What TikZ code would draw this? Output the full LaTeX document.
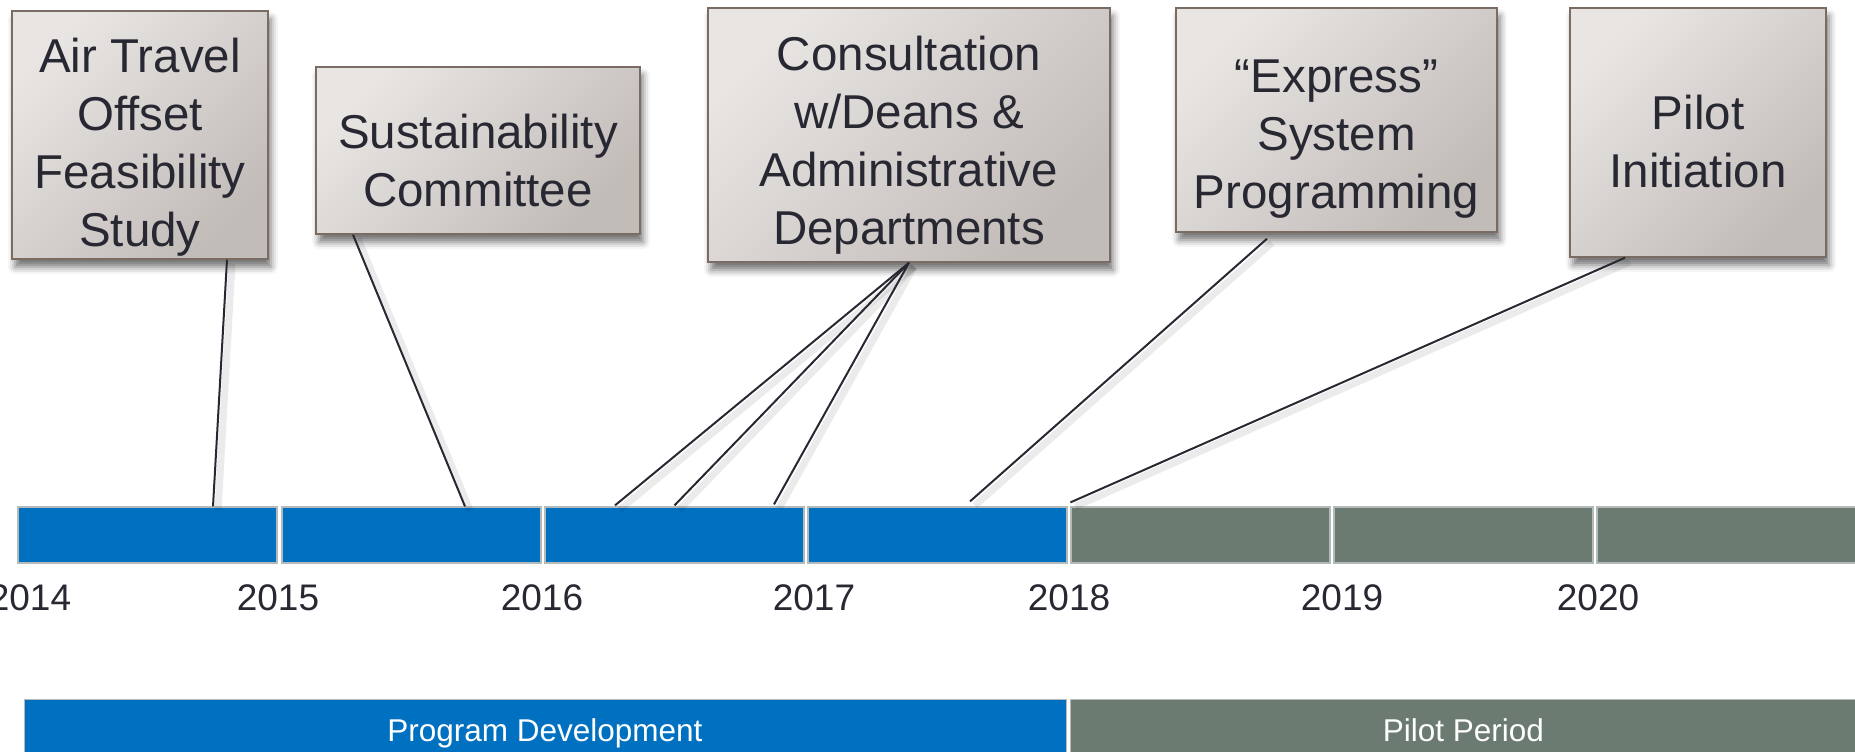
\documentclass[tikz,border=0pt]{standalone}
\usepackage{fontspec}
\setmainfont{Liberation Sans}
\usetikzlibrary{shadows.blur}
\definecolor{tblue}{HTML}{0070C0}
\definecolor{tgray}{HTML}{6B7B71}
\definecolor{boxlight}{HTML}{E8E5E2}
\definecolor{boxdark}{HTML}{C2BCB9}
\definecolor{boxedge}{HTML}{7A6B63}
\definecolor{ink}{HTML}{282832}
\definecolor{segedge}{HTML}{B4BABA}
\newcommand{\tpad}[1]{\rule{0pt}{#1}}
\begin{document}
\begin{tikzpicture}[x=1pt,y=-1pt,
  evbox/.style={draw=boxedge, line width=1.5pt, left color=boxlight, right color=boxdark,
    shading angle=45,
    blur shadow={shadow xshift=3pt, shadow yshift=-8pt, shadow blur radius=7pt, shadow opacity=55},
    inner sep=0pt, align=center, text=ink, font=\fontsize{47.5pt}{58pt}\selectfont},
  seg/.style={draw=segedge, line width=1.2pt, inner sep=0pt, minimum width=259pt, minimum height=56pt},
  bar/.style={draw=segedge, line width=1pt, inner sep=0pt, minimum height=53pt, text=white,
    text height=31pt, text depth=0pt, font=\fontsize{31.5pt}{38pt}\selectfont},
  year/.style={anchor=base, text=ink, inner sep=0pt, font=\fontsize{37pt}{44pt}\selectfont},
  conn/.style={draw=ink, line width=2pt,
    preaction={draw=black, opacity=0.08, line width=7pt, transform canvas={shift={(5pt,-4pt)}}}}
]
\useasboundingbox (0,0) rectangle (1855,752);

% event boxes
\node[evbox, minimum width=256pt, minimum height=248pt] (b1) at (140,135)
  {\tpad{59pt}Air Travel\\Offset\\Feasibility\\Study};
\node[evbox, minimum width=324pt, minimum height=167pt] (b2) at (478,150.5)
  {\tpad{55pt}Sustainability\\Committee};
\node[evbox, minimum width=402pt, minimum height=254pt] (b3) at (909,135)
  {\tpad{55pt}Consultation\\w/Deans \&\\Administrative\\Departments};
\node[evbox, minimum width=321pt, minimum height=224pt] (b4) at (1336.5,120)
  {\tpad{70pt}“Express”\\System\\Programming};
\node[evbox, minimum width=256pt, minimum height=249pt] (b5) at (1698,132.5)
  {\tpad{53pt}Pilot\\Initiation};

% timeline segments
\node[seg, fill=tblue] (s1) at (147.5,535) {};
\node[seg, fill=tblue] (s2) at (411.5,535) {};
\node[seg, fill=tblue] (s3) at (674.5,535) {};
\node[seg, fill=tblue] (s4) at (937.5,535) {};
\node[seg, fill=tgray] (s5) at (1200.5,535) {};
\node[seg, fill=tgray] (s6) at (1463.5,535) {};
\node[seg, fill=tgray] (s7) at (1726.5,535) {};

% years
\node[year] (y14) at (30,610) {2014};
\node[year] (y15) at (278,610) {2015};
\node[year] (y16) at (542,610) {2016};
\node[year] (y17) at (814,610) {2017};
\node[year] (y18) at (1069,610) {2018};
\node[year] (y19) at (1342,610) {2019};
\node[year] (y20) at (1598,610) {2020};

% bottom bars
\node[bar, fill=tblue, minimum width=1042pt] (p1) at (545,725.5) {Program Development};
\node[bar, fill=tgray, minimum width=787pt] (p2) at (1463.5,725.5) {Pilot Period};

% connectors
\draw[conn] ([xshift=87pt]b1.south) -- ([xshift=65.5pt]s1.north);
\draw[conn] ([xshift=-125pt]b2.south) -- ([xshift=53.5pt]s2.north);
\draw[conn] (b3.south) -- ([xshift=-59.5pt,yshift=1pt]s3.north);
\draw[conn] (b3.south) -- ([yshift=1pt]s3.north);
\draw[conn] (b3.south) -- ([xshift=99.5pt,yshift=2pt]s3.north);
\draw[conn] ([xshift=-69.5pt,yshift=-6pt]b4.south) -- ([xshift=32.5pt,yshift=5pt]s4.north);
\draw[conn] ([xshift=-73pt]b5.south) -- ([yshift=4pt]s5.north west);
\end{tikzpicture}
\end{document}
